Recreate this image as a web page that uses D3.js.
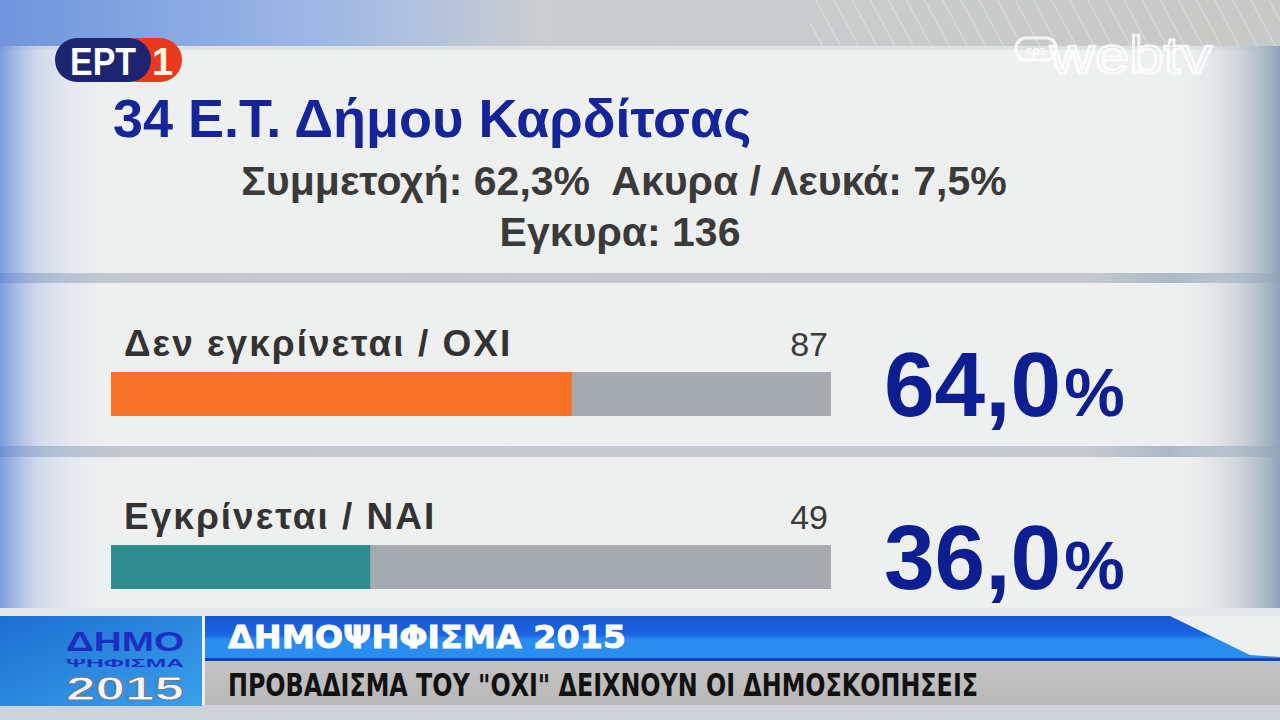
<!DOCTYPE html>
<html>
<head>
<meta charset="utf-8">
<script src="https://cdn.jsdelivr.net/npm/d3@7"></script>
<style>
  html, body { margin: 0; padding: 0; background: #eef0f0; overflow: hidden; }
  svg { display: block; }
</style>
</head>
<body>
<div class="chart"></div>
<script>
// Chart data
const categories = ["Δεν εγκρίνεται / ΟΧΙ", "Εγκρίνεται / ΝΑΙ"];
const votes = [87, 49];
const percents = [64.0, 36.0];
const barColors = ["#f57227", "#2f8d8f"];

const titleText = "34 Ε.Τ. Δήμου Καρδίτσας";
const turnoutLine = "Συμμετοχή: 62,3%  Ακυρα / Λευκά: 7,5%";
const validLine = "Εγκυρα: 136";
const tickerTitle = "ΔΗΜΟΨΗΦΙΣΜΑ 2015";
const tickerText = "ΠΡΟΒΑΔΙΣΜΑ ΤΟΥ \"ΟΧΙ\" ΔΕΙΧΝΟΥΝ ΟΙ ΔΗΜΟΣΚΟΠΗΣΕΙΣ";

const width = 1280;
const height = 720;
const font = "'Liberation Sans', Arial, sans-serif";

let svg = d3.select(".chart").append("svg")
    .attr("width", width)
    .attr("height", height)
    .attr("viewBox", `0 0 ${width} ${height}`);

let defs = svg.append("defs");

// gradients for the backdrop
function linGrad(id, x2, y2, stops) {
    let g = defs.append("linearGradient").attr("id", id)
        .attr("x1", 0).attr("y1", 0).attr("x2", x2).attr("y2", y2);
    stops.forEach(s => g.append("stop").attr("offset", s[0]).attr("stop-color", s[1]).attr("stop-opacity", s[2] === undefined ? 1 : s[2]));
}
linGrad("topStrip", 1, 0, [[0, "#6f95dc"], [0.25, "#9db8e6"], [0.42, "#c9cdd0"], [1, "#c8c9c6"]]);
linGrad("leftFade", 1, 0, [[0, "#5f86d6", 0.8], [0.35, "#a7bde6", 0.4], [1, "#e8edf2", 0]]);
linGrad("rightFade", 1, 0, [[0, "#eef0f0", 0], [0.55, "#c8ced4", 0.6], [1, "#8fa3b8", 1]]);
linGrad("sepBand", 1, 0, [[0, "#9fb0c8"], [0.1, "#c3c9cf"], [0.85, "#c4cad0"], [1, "#8aa2bc"]]);
linGrad("tickerBlue", 0, 1, [[0, "#1a55d2"], [0.45, "#1a66e2"], [0.55, "#2a8cf0"], [1, "#2a8eef"]]);
linGrad("tickerGray", 0, 1, [[0, "#c4c2c2"], [1, "#b9b8b8"]]);
linGrad("logoBox", 1, 1, [[0, "#1c6fd0"], [1, "#3aa0ec"]]);

let stripes = defs.append("pattern").attr("id", "stripes")
    .attr("width", 16).attr("height", 16)
    .attr("patternUnits", "userSpaceOnUse")
    .attr("patternTransform", "rotate(-28)");
stripes.append("line").attr("x1", 0).attr("y1", 0).attr("x2", 0).attr("y2", 16)
    .attr("stroke", "#ffffff").attr("stroke-width", 1.2).attr("opacity", 0.55);

// backdrop
svg.append("rect").attr("width", width).attr("height", height).attr("fill", "#eef0f0");
svg.append("rect").attr("width", width).attr("height", 46).attr("fill", "url(#topStrip)");
svg.append("rect").attr("x", 810).attr("width", 470).attr("height", 46).attr("fill", "url(#stripes)");
svg.append("rect").attr("y", 46).attr("width", width).attr("height", 4).attr("fill", "#dfe2e4");

// separator bands between panels
svg.append("rect").attr("y", 273).attr("width", width).attr("height", 10).attr("fill", "url(#sepBand)");
svg.append("rect").attr("y", 446).attr("width", width).attr("height", 11).attr("fill", "url(#sepBand)");

// side fades
svg.append("rect").attr("y", 46).attr("width", 115).attr("height", 570).attr("fill", "url(#leftFade)");
svg.append("rect").attr("x", 1170).attr("y", 46).attr("width", 110).attr("height", 570).attr("fill", "url(#rightFade)");

// ERT logo
let ert = svg.append("g").attr("transform", "translate(55, 38)");
ert.append("rect").attr("x", 60).attr("width", 67).attr("height", 44).attr("rx", 22).attr("fill", "#e8381e");
ert.append("rect").attr("width", 96).attr("height", 44).attr("rx", 22).attr("fill", "#1d2470");
ert.append("text").attr("x", 15).attr("y", 37).text("ΕΡΤ")
    .attr("font-family", font).attr("font-weight", "bold").attr("font-size", 38)
    .attr("fill", "#ffffff").attr("textLength", 66).attr("lengthAdjust", "spacingAndGlyphs");
ert.append("text").attr("x", 97).attr("y", 37).text("1")
    .attr("font-family", font).attr("font-weight", "bold").attr("font-size", 38)
    .attr("fill", "#fff6dc");

// webtv logo
let web = svg.append("g").attr("opacity", 0.8);
web.append("rect").attr("x", 1016).attr("y", 38).attr("width", 40).attr("height", 22).attr("rx", 10)
    .attr("fill", "none").attr("stroke", "#ffffff").attr("stroke-width", 3);
web.append("text").attr("x", 1026).attr("y", 55).text("ερτ")
    .attr("font-family", font).attr("font-weight", "bold").attr("font-size", 13).attr("fill", "#ffffff");
web.append("text").attr("x", 1050).attr("y", 73).text("webtv")
    .attr("font-family", font).attr("font-size", 52).attr("fill", "none")
    .attr("stroke", "#ffffff").attr("stroke-width", 2.5)
    .attr("textLength", 162).attr("lengthAdjust", "spacingAndGlyphs");

// header texts
svg.append("text").attr("x", 113).attr("y", 137).text(titleText)
    .attr("font-family", font).attr("font-weight", "bold").attr("font-size", 54)
    .attr("fill", "#16249a");
svg.append("text").attr("x", 624).attr("y", 195).text(turnoutLine)
    .attr("text-anchor", "middle").style("white-space", "pre")
    .attr("font-family", font).attr("font-weight", "bold").attr("font-size", 41)
    .attr("fill", "#3a3a3a");
svg.append("text").attr("x", 620).attr("y", 246).text(validLine)
    .attr("text-anchor", "middle")
    .attr("font-family", font).attr("font-weight", "bold").attr("font-size", 41)
    .attr("fill", "#3a3a3a");

// scales
const xScale = d3.scaleLinear().domain([0, 100]).range([111, 831]);
const yScale = d3.scaleBand().domain(categories).range([310, 656]);

const rows = categories.map((c, i) => ({ name: c, votes: votes[i], pct: percents[i], color: barColors[i] }));

let row = svg.selectAll(".row").data(rows).enter().append("g")
    .attr("class", "row")
    .attr("transform", d => `translate(0, ${yScale(d.name)})`);

// grey track
row.append("rect")
    .attr("x", xScale(0)).attr("y", 62)
    .attr("width", xScale(100) - xScale(0)).attr("height", 44)
    .attr("fill", "#a5aaaf");

// value bar
row.append("rect")
    .attr("x", xScale(0)).attr("y", 62)
    .attr("width", d => xScale(d.pct) - xScale(0)).attr("height", 44)
    .attr("fill", d => d.color);

// category label
row.append("text")
    .attr("x", 124).attr("y", 46)
    .text(d => d.name)
    .attr("font-family", font).attr("font-weight", "bold").attr("font-size", 37)
    .attr("letter-spacing", 2)
    .attr("fill", "#333333");

// vote count
row.append("text")
    .attr("x", xScale(100) - 3).attr("y", 46)
    .attr("text-anchor", "end")
    .text(d => d.votes)
    .attr("font-family", font).attr("font-size", 34)
    .attr("fill", "#3a3a3a");

// big percentage
let pctText = row.append("text")
    .attr("x", 884).attr("y", 106)
    .attr("font-family", font).attr("font-weight", "bold")
    .attr("fill", "#0d1f90");
pctText.append("tspan").attr("font-size", 91)
    .text(d => d.pct.toFixed(1).replace(".", ","));
pctText.append("tspan").attr("font-size", 68).attr("dx", 3)
    .text("%");

// bottom ticker
svg.append("rect").attr("y", 608).attr("width", width).attr("height", 8).attr("fill", "#e6e9eb");
svg.append("rect").attr("y", 705).attr("width", width).attr("height", 15).attr("fill", "#cdd3d8");
svg.append("rect").attr("x", 0).attr("y", 616).attr("width", 202).attr("height", 90).attr("fill", "url(#logoBox)");
svg.append("path")
    .attr("d", "M205,616 L1170,616 L1250,655 L1280,657 L1280,658 L205,658 Z")
    .attr("fill", "url(#tickerBlue)");
svg.append("rect").attr("x", 205).attr("y", 658).attr("width", 1075).attr("height", 3).attr("fill", "#1642b8");
svg.append("rect").attr("x", 205).attr("y", 661).attr("width", 1075).attr("height", 44).attr("fill", "url(#tickerGray)");

svg.append("text").attr("x", 228).attr("y", 648).text(tickerTitle)
    .attr("font-family", "'DejaVu Sans Condensed', 'DejaVu Sans', sans-serif").attr("font-weight", "bold")
    .attr("font-size", 32).attr("fill", "#ffffff")
    .attr("stroke", "#ffffff").attr("stroke-width", 0.8)
    .attr("textLength", 398).attr("lengthAdjust", "spacingAndGlyphs");
svg.append("text").attr("x", 228).attr("y", 696).text(tickerText)
    .attr("font-family", "'DejaVu Sans Condensed', 'DejaVu Sans', sans-serif").attr("font-weight", "bold")
    .attr("font-size", 31).attr("fill", "#111111")
    .attr("textLength", 750).attr("lengthAdjust", "spacingAndGlyphs");

// referendum badge
let badge = svg.append("g");
badge.append("text").attr("x", 125).attr("y", 651).attr("text-anchor", "middle").text("ΔΗΜΟ")
    .attr("font-family", font).attr("font-weight", "bold").attr("font-size", 27)
    .attr("fill", "#1d2fc0").attr("textLength", 118).attr("lengthAdjust", "spacingAndGlyphs");
badge.append("text").attr("x", 125).attr("y", 667).attr("text-anchor", "middle").text("ΨΗΦΙΣΜΑ")
    .attr("font-family", font).attr("font-weight", "bold").attr("font-size", 11)
    .attr("fill", "#1d2fc0").attr("textLength", 118).attr("lengthAdjust", "spacingAndGlyphs");
badge.append("text").attr("x", 125).attr("y", 700).attr("text-anchor", "middle").text("2015")
    .attr("font-family", font).attr("font-weight", "bold").attr("font-size", 34)
    .attr("fill", "#f4f6f8").attr("stroke", "#6a7c90").attr("stroke-width", 1)
    .attr("textLength", 118).attr("lengthAdjust", "spacingAndGlyphs");
</script>
</body>
</html>
